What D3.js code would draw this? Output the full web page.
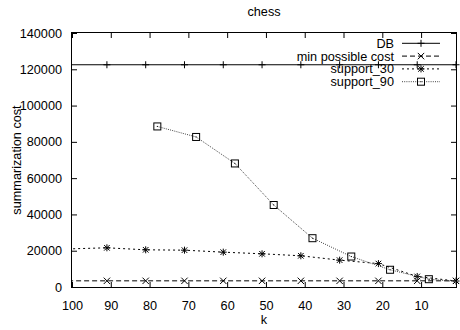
<!DOCTYPE html>
<html>
<head>
<meta charset="utf-8">
<script src="https://cdn.jsdelivr.net/npm/d3@7"></script>
<style>
  html, body { margin: 0; padding: 0; background: #fff; }
  svg text { font-family: "Liberation Sans", Arial, Helvetica, sans-serif; font-size: 12.7px; fill: #000; }
</style>
</head>
<body>
<svg id="chart" width="460" height="330"></svg>
<script>
// k values (x axis runs from 100 down to 1)
const kMain = [101, 91, 81, 71, 61, 51, 41, 31, 21, 11, 1];
const dbCost = [122500, 122500, 122500, 122500, 122500, 122500, 122500, 122500, 122500, 122500, 122500];
const minCost = [3400, 3400, 3400, 3400, 3400, 3400, 3400, 3400, 3400, 3400, 3400];
const support30 = [21000, 21600, 20500, 20300, 19200, 18300, 17200, 14800, 12900, 5800, 3300];
const k90 = [78, 68, 58, 48, 38, 28, 18, 8, -2];
const support90 = [88500, 82700, 68100, 45200, 26900, 16800, 9500, 4300, 2500];

const xTicks = [100, 90, 80, 70, 60, 50, 40, 30, 20, 10];
const yTicks = [0, 20000, 40000, 60000, 80000, 100000, 120000, 140000];

const seriesNames = ["DB", "min possible cost", "support_30", "support_90"];

const svg = d3.select("#chart");
const plotL = 72, plotR = 456, plotT = 33, plotB = 287;

const x = d3.scaleLinear().domain([100, 1]).range([plotL, plotR]);
const y = d3.scaleLinear().domain([0, 140000]).range([plotB, plotT]);

// title and axis labels
svg.append("text").attr("x", (plotL + plotR) / 2).attr("y", 16)
  .attr("text-anchor", "middle").text("chess");
svg.append("text").attr("x", (plotL + plotR) / 2).attr("y", 324)
  .attr("text-anchor", "middle").text("k");
svg.append("text")
  .attr("transform", `translate(21,${(plotT + plotB) / 2}) rotate(-90)`)
  .attr("text-anchor", "middle").text("summarization cost");

// axes with inward ticks, mirrored on the opposite side
const tl = 5;
const gxB = svg.append("g").attr("transform", `translate(0,${plotB})`)
  .call(d3.axisBottom(x).tickValues(xTicks).tickFormat(d3.format("d"))
    .tickSizeInner(-tl).tickSizeOuter(0).tickPadding(tl + 9));
const gxT = svg.append("g").attr("transform", `translate(0,${plotT})`)
  .call(d3.axisTop(x).tickValues(xTicks).tickSizeInner(-tl).tickSizeOuter(0).tickFormat(""));
const gyL = svg.append("g").attr("transform", `translate(${plotL},0)`)
  .call(d3.axisLeft(y).tickValues(yTicks).tickFormat(d3.format("d"))
    .tickSizeInner(-tl).tickSizeOuter(0).tickPadding(tl + 5));
const gyR = svg.append("g").attr("transform", `translate(${plotR},0)`)
  .call(d3.axisRight(y).tickValues(yTicks).tickSizeInner(-tl).tickSizeOuter(0).tickFormat(""));
[gxB, gxT, gyL, gyR].forEach(g => {
  g.select(".domain").remove();
  g.selectAll("text").attr("font-size", null).attr("font-family", null);
  g.selectAll("line").attr("stroke", "#000");
});
gxB.selectAll(".tick text").attr("dy", "0.71em");

// clip region for lines
svg.append("clipPath").attr("id", "plotClip")
  .append("rect").attr("x", plotL).attr("y", plotT)
  .attr("width", plotR - plotL).attr("height", plotB - plotT);

const series = [
  { name: seriesNames[0], ks: kMain, vals: dbCost, dash: null, color: "#000", marker: "plus" },
  { name: seriesNames[1], ks: kMain, vals: minCost, dash: "5,3", color: "#000", marker: "cross" },
  { name: seriesNames[2], ks: kMain, vals: support30, dash: "2,3", color: "#000", marker: "star" },
  { name: seriesNames[3], ks: k90, vals: support90, dash: "1,1.2", color: "#444", marker: "square" }
];

function drawMarker(g, type, cx, cy, color) {
  const s = 3.5;
  const m = g.append("g").attr("transform", `translate(${cx},${cy})`)
    .attr("stroke", color).attr("stroke-width", 1).attr("fill", "none");
  if (type === "plus" || type === "star") {
    m.append("line").attr("x1", -s).attr("x2", s).attr("y1", 0).attr("y2", 0);
    m.append("line").attr("x1", 0).attr("x2", 0).attr("y1", -s).attr("y2", s);
  }
  if (type === "cross" || type === "star") {
    const c = type === "star" ? 2.8 : 3.2;
    m.append("line").attr("x1", -c).attr("x2", c).attr("y1", -c).attr("y2", c);
    m.append("line").attr("x1", -c).attr("x2", c).attr("y1", c).attr("y2", -c);
  }
  if (type === "square") {
    m.append("rect").attr("x", -3.5).attr("y", -3.5).attr("width", 7).attr("height", 7)
      .attr("stroke", "#000");
    m.append("rect").attr("x", -0.5).attr("y", -0.5).attr("width", 1).attr("height", 1)
      .attr("fill", "#000").attr("stroke", "none");
  }
}

const line = d3.line().x(d => x(d[0])).y(d => y(d[1]));
const plotG = svg.append("g");
series.forEach(s => {
  const pts = s.ks.map((k, i) => [k, s.vals[i]]);
  plotG.append("path").datum(pts)
    .attr("clip-path", "url(#plotClip)")
    .attr("d", line).attr("fill", "none")
    .attr("stroke", s.color).attr("stroke-width", 1)
    .attr("stroke-dasharray", s.dash);
  pts.filter(p => p[0] <= 100 && p[0] >= 1)
    .forEach(p => drawMarker(plotG, s.marker, x(p[0]), y(p[1]), "#000"));
});

// legend (top right)
const legX = 394, sampleX0 = 402, sampleX1 = 440, legY0 = 43.3, legDy = 12.8;
series.forEach((s, i) => {
  const ly = legY0 + i * legDy;
  svg.append("text").attr("x", legX).attr("y", ly).attr("dy", "0.35em")
    .attr("text-anchor", "end").text(s.name);
  svg.append("line").attr("x1", sampleX0).attr("x2", sampleX1)
    .attr("y1", ly).attr("y2", ly)
    .attr("stroke", s.color).attr("stroke-width", 1)
    .attr("stroke-dasharray", s.dash);
  drawMarker(svg, s.marker, (sampleX0 + sampleX1) / 2, ly, "#000");
});

// plot frame
svg.append("rect").attr("x", plotL - 0.5).attr("y", plotT - 0.5)
  .attr("width", plotR - plotL + 1).attr("height", plotB - plotT + 1)
  .attr("fill", "none").attr("stroke", "#000").attr("stroke-width", 1);
</script>
</body>
</html>
